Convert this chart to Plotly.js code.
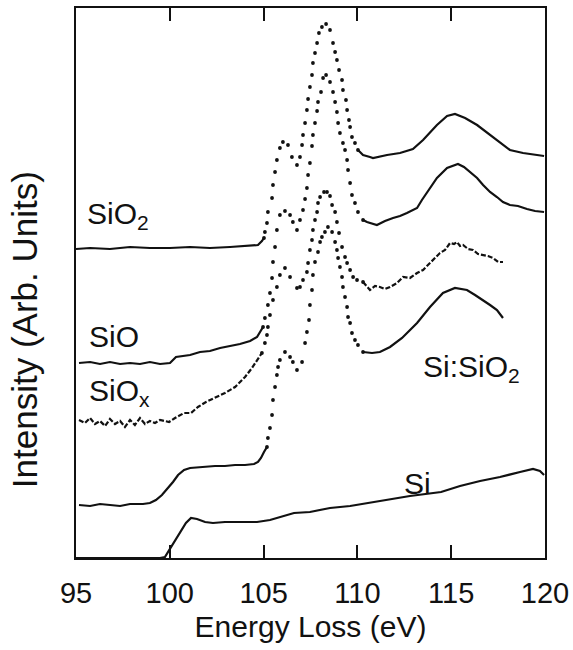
<!DOCTYPE html>
<html>
<head>
<meta charset="utf-8">
<script src="https://cdn.plot.ly/plotly-3.0.1.min.js"></script>
<style>html,body{margin:0;padding:0;background:#fff}#chart{width:573px;height:650px}</style>
</head>
<body>
<div id="chart"></div>
<script>
// ---- Data (energy loss in eV, intensity in arbitrary units) ----
const energySiO2 = [95.00,95.75,96.81,97.88,98.94,100.01,101.08,102.14,103.21,104.28,104.70,104.91,105.02,
  105.07,105.18,105.23,105.45,105.50,105.61,105.71,105.87,106.03,106.30,106.51,106.78,106.94,107.05,107.10,107.21,107.31,107.37,107.47,107.58,107.63,107.74,107.85,107.95,108.11,108.33,108.54,108.70,108.81,108.91,109.02,109.18,109.23,109.39,109.45,109.55,109.61,109.71,109.87,110.03,110.30,
  110.67,110.83,111.58,112.27,112.96,113.50,114.24,114.78,115.20,115.74,116.38,117.23,118.13,118.83,119.47,119.95];
const intSiO2 = [309,310,309,311,310,310,311,310,311,312,313,317,320,
  326,335,346,360,373,386,398,410,416,413,401,393,401,413,423,435,448,459,471,483,495,505,515,525,531,534,528,515,506,498,488,478,468,458,448,438,431,421,415,408,403,
  401,400,403,405,409,418,433,442,444,440,433,421,408,405,403,402];

const energySiO = [95.16,95.75,96.28,96.81,97.35,97.88,98.41,98.94,99.48,100.01,100.33,101.08,101.61,102.14,102.68,103.21,103.74,104.28,104.65,104.97,
  105.07,105.23,105.34,105.45,105.50,105.61,105.71,105.87,106.14,106.41,106.56,106.78,106.94,107.10,107.21,107.31,107.37,107.47,107.58,107.63,107.74,107.85,107.90,108.06,108.17,108.33,108.54,108.70,108.81,108.91,108.97,109.07,109.23,109.34,109.45,109.50,109.61,109.71,109.87,110.03,110.30,
  110.51,111.04,111.47,111.90,112.27,112.64,113.18,113.44,113.71,113.98,114.24,114.78,115.04,115.36,115.68,116.00,116.38,116.70,117.07,117.44,117.76,118.13,118.56,119.04,119.47,119.95];
const intSiO = [195,196,194,196,194,195,194,196,194,195,201,203,206,207,210,212,214,217,221,231,
  240,253,265,280,296,311,328,343,347,343,336,328,338,348,359,370,383,395,412,423,435,447,456,466,480,483,476,466,456,446,435,425,415,408,398,388,375,363,355,346,338,
  336,333,337,340,342,345,350,358,365,372,380,390,392,394,391,386,380,373,366,361,356,353,352,349,347,346];

const energySiOx = [95.16,95.48,95.75,96.01,96.28,96.55,96.81,97.08,97.35,97.61,97.88,98.14,98.41,98.68,98.94,99.21,99.48,99.96,100.28,100.76,101.13,101.50,101.93,102.41,102.94,103.48,104.01,104.38,104.65,104.91,
  105.07,105.18,105.23,105.34,105.50,105.71,105.87,106.14,106.41,106.78,106.94,107.10,107.31,107.37,107.47,107.58,107.63,107.74,107.85,107.90,108.01,108.22,108.38,108.54,108.65,108.81,108.91,109.02,109.18,109.34,109.45,109.61,109.77,109.98,110.30,
  110.67,110.94,111.20,111.47,111.74,112.11,112.43,112.80,113.18,113.50,113.87,114.14,114.40,114.67,114.94,115.15,115.31,115.47,115.63,115.90,116.16,116.43,116.70,116.96,117.23,117.50,117.76];
const intSiOx = [138,135,140,134,137,132,139,134,137,131,138,133,140,134,137,135,138,136,140,145,145,151,156,160,165,171,181,190,198,205,
  215,223,231,243,258,271,283,290,281,270,271,278,286,295,308,318,328,338,346,355,361,366,366,362,353,346,336,325,311,301,295,288,281,278,276,
  268,272,271,269,271,275,281,280,285,288,295,300,305,308,315,314,316,312,313,309,308,304,303,302,300,296,296];

const energySiSiO2 = [95.16,95.75,96.28,96.81,97.35,97.88,98.57,98.94,99.26,99.58,99.90,100.17,100.44,100.76,101.08,101.61,101.93,102.41,102.94,103.48,104.01,104.49,104.70,104.86,105.02,105.18,
  105.23,105.34,105.45,105.50,105.61,105.71,105.77,105.87,106.14,106.41,106.56,106.78,107.05,107.21,107.31,107.42,107.47,107.58,107.63,107.74,107.90,108.01,108.11,108.27,108.43,108.65,108.81,108.91,108.97,109.07,109.18,109.23,109.34,109.45,109.50,109.61,109.71,109.87,110.03,110.30,
  110.78,111.20,111.74,112.38,113.18,113.87,114.56,115.20,115.84,116.27,116.70,117.07,117.44,117.76];
const intSiSiO2 = [53,52,54,53,52,54,54,55,58,63,70,76,83,88,90,91,91,92,92,93,93,94,96,100,106,111,
  120,130,143,158,171,183,191,198,206,201,196,188,196,215,226,238,253,268,283,296,306,316,321,326,331,326,316,308,300,291,281,271,261,251,241,235,225,218,213,206,
  205,206,211,220,235,251,265,270,268,263,258,253,248,240];

const energySi = [95.00,96.28,97.88,99.48,99.74,100.12,100.54,100.86,101.13,101.45,101.88,102.30,102.94,103.74,104.65,105.34,105.87,106.62,107.47,108.54,109.61,110.57,111.74,112.80,114.46,115.47,116.54,117.60,118.67,119.36,119.73,119.95];
const intSi = [0,0,0,0,1,13,26,35,40,39,36,35,36,36,36,38,41,45,46,50,52,55,59,62,66,72,77,81,86,89,87,83];

const xTickValues = [95,100,105,110,115,120];
const xTickLabels = ['95','100','105','110','115','120'];

// ---- Drawing ----
const INK = '#111111';
const SANS = '"Liberation Sans", Arial, sans-serif';

// steep parts of the spectra are drawn as separate dots (as in the original print)
const curves = [
  {x: energySiO2,   y: intSiO2,   lo: 105.02, hi: 110.03, dash: 'solid'},
  {x: energySiO,    y: intSiO,    lo: 104.97, hi: 110.30, dash: 'solid'},
  {x: energySiOx,   y: intSiOx,   lo: 104.91, hi: 110.30, dash: '5px,2px'},
  {x: energySiSiO2, y: intSiSiO2, lo: 105.18, hi: 110.30, dash: 'solid'},
  {x: energySi,     y: intSi,     lo: 999,    hi: 999,    dash: 'solid'}
];

const traces = [];
curves.forEach(c => {
  const lx = [], ly = [], dx = [], dy = [];
  let gapAdded = false;
  c.x.forEach((xv, i) => {
    if (xv <= c.lo || xv >= c.hi) {
      if (xv >= c.hi && !gapAdded && c.lo < 900) { lx.push(null); ly.push(null); gapAdded = true; }
      lx.push(xv); ly.push(c.y[i]);
    }
    if (xv >= c.lo && xv <= c.hi) { dx.push(xv); dy.push(c.y[i]); }
  });
  traces.push({x: lx, y: ly, type: 'scatter', mode: 'lines', connectgaps: false,
    line: {color: INK, width: 2.2, dash: c.dash}, hoverinfo: 'skip'});
  if (dx.length) traces.push({x: dx, y: dy, type: 'scatter', mode: 'markers',
    marker: {color: INK, size: 3.8}, hoverinfo: 'skip'});
});

const labelFont = {family: SANS, size: 30, color: INK};
const annotations = [
  {x: 95.5, y: 343, text: 'SiO<sub>2</sub>'},
  {x: 95.6, y: 222, text: 'SiO'},
  {x: 95.6, y: 166, text: 'SiO<sub>x</sub>'},
  {x: 113.4, y: 190, text: 'Si:SiO<sub>2</sub>'},
  {x: 112.4, y: 75, text: 'Si'}
].map(a => Object.assign({xref: 'x', yref: 'y', xanchor: 'left', yanchor: 'middle',
  showarrow: false, font: labelFont}, a));

annotations.push({xref: 'paper', yref: 'paper', x: -0.11, y: 0.415, xanchor: 'center', yanchor: 'middle',
  textangle: -90, showarrow: false, text: 'Intensity (Arb. Units)',
  font: {family: SANS, size: 35, color: INK}});

const layout = {
  width: 573, height: 650,
  margin: {l: 76, r: 28, t: 8, b: 92},
  paper_bgcolor: '#ffffff', plot_bgcolor: '#ffffff',
  showlegend: false,
  xaxis: {
    range: [95, 120], tickvals: xTickValues, ticktext: xTickLabels,
    ticks: 'inside', ticklen: 13, tickwidth: 2, tickcolor: INK,
    showline: true, linewidth: 2, linecolor: INK, mirror: 'ticks',
    showgrid: false, zeroline: false, ticklabelstandoff: 8,
    tickfont: {family: SANS, size: 29, color: INK},
    title: {text: 'Energy Loss (eV)', font: {family: SANS, size: 30, color: INK}, standoff: 8}
  },
  yaxis: {
    range: [0, 550], showticklabels: false, ticks: '',
    showline: true, linewidth: 2, linecolor: INK, mirror: true,
    showgrid: false, zeroline: false
  },
  annotations: annotations
};

Plotly.newPlot('chart', traces, layout, {staticPlot: true, displayModeBar: false});
</script>
</body>
</html>
